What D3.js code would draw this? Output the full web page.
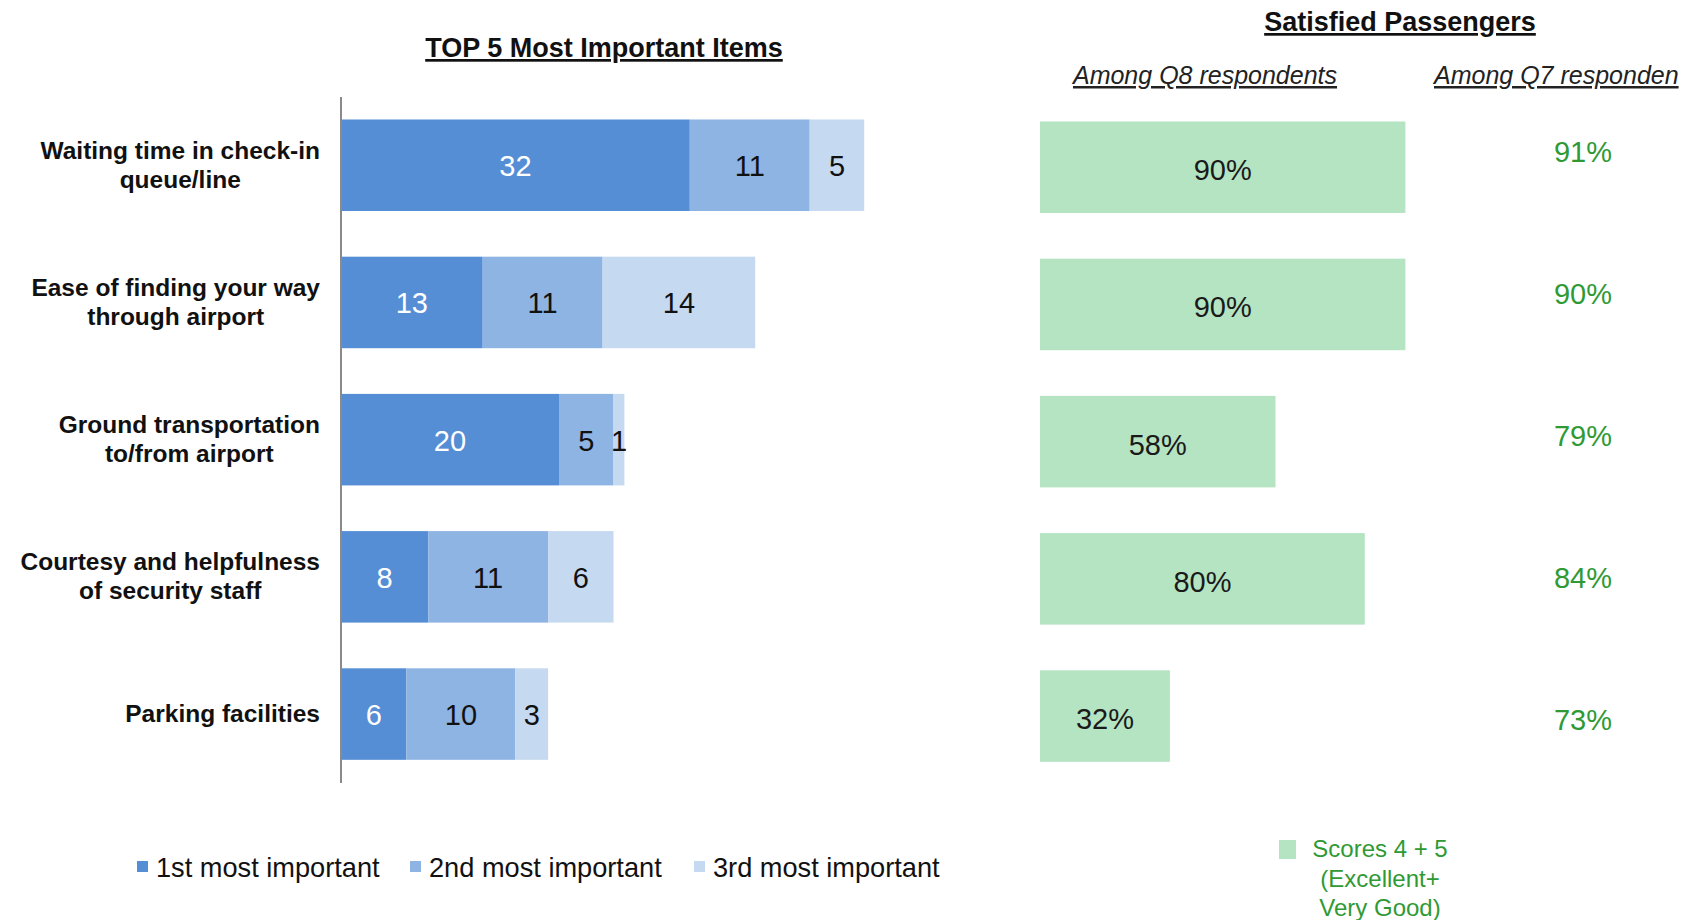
<!DOCTYPE html>
<html><head><meta charset="utf-8">
<script src="https://cdn.jsdelivr.net/npm/d3@7"></script>
<style>
html,body{margin:0;padding:0;background:#fff;}
text{font-family:"Liberation Sans",Arial,sans-serif;}
</style></head>
<body>
<svg id="chart" width="1688" height="920"></svg>
<script>
const categories = [
  ["Waiting time in check-in","queue/line"],
  ["Ease of finding your way","through airport"],
  ["Ground transportation","to/from airport"],
  ["Courtesy and helpfulness","of security staff"],
  ["Parking facilities"]
];
const catKeys = ["wait","ease","ground","courtesy","parking"];
const seriesNames = ["1st most important","2nd most important","3rd most important"];
const first  = [32, 13, 20, 8, 6];
const second = [11, 11, 5, 11, 10];
const third  = [5, 14, 1, 6, 3];
const satQ8 = [90, 90, 58, 80, 32];
const satQ7 = [91, 90, 79, 84, 73];
const greenLegend = ["Scores 4 + 5","(Excellent+","Very Good)"];

const blues = ["#558ed5","#8eb4e3","#c5d9f1"];
const labelColors = ["#ffffff","#111111","#111111"];
const greenBar = "#b5e4c3";
const greenText = "#2f9a34";

const svg = d3.select("#chart");

// Left stacked bars
const xL = d3.scaleLinear().domain([0, 50]).range([341, 341 + 50*10.9]);
const yB = d3.scaleBand().domain(catKeys).range([73.8, 805.5]).padding(0.333);

const rows = catKeys.map((k,i)=>({key:k, a:first[i], b:second[i], c:third[i]}));
const stack = d3.stack().keys(["a","b","c"])(rows);

stack.forEach((layer, si) => {
  const g = svg.append("g");
  g.selectAll("rect").data(layer).join("rect")
    .attr("x", d => xL(d[0]))
    .attr("y", d => yB(d.data.key))
    .attr("width", d => xL(d[1]) - xL(d[0]))
    .attr("height", yB.bandwidth())
    .attr("fill", blues[si]);
  g.selectAll("text").data(layer).join("text")
    .attr("x", d => (xL(d[0]) + xL(d[1]))/2)
    .attr("y", d => yB(d.data.key) + yB.bandwidth()/2 + 1)
    .attr("text-anchor", "middle")
    .attr("dominant-baseline", "central")
    .attr("font-size", 29)
    .attr("fill", labelColors[si])
    .text(d => d[1]-d[0]);
});

// Axis line
svg.append("line").attr("x1",341).attr("x2",341).attr("y1",97).attr("y2",783)
  .attr("stroke","#8a8a8a").attr("stroke-width",2);

// Category labels: block right-aligned at x=320, lines centred within block
catKeys.forEach((k,i)=>{
  const lines = categories[i];
  const cy = yB(k) + yB.bandwidth()/2;
  const lh = 29;
  const t = svg.append("text").attr("text-anchor","middle")
    .attr("font-size",24.5).attr("font-weight","bold").attr("fill","#111");
  const spans = lines.map((ln,j)=> t.append("tspan")
     .attr("x", 0)
     .attr("y", cy + (j - (lines.length-1)/2)*lh + 8)
     .text(ln));
  const maxW = d3.max(spans, s => s.node().getComputedTextLength());
  spans.forEach(s => s.attr("x", 320 - maxW/2));
});

// Titles
svg.append("text").attr("x",604).attr("y",57).attr("text-anchor","middle")
  .attr("font-size",27).attr("font-weight","bold").attr("text-decoration","underline")
  .attr("fill","#111").text("TOP 5 Most Important Items");
svg.append("text").attr("x",1400).attr("y",31).attr("text-anchor","middle")
  .attr("font-size",27).attr("font-weight","bold").attr("text-decoration","underline")
  .attr("fill","#111").text("Satisfied Passengers");
svg.append("text").attr("x",1205).attr("y",84).attr("text-anchor","middle")
  .attr("font-size",25).attr("font-style","italic").attr("text-decoration","underline")
  .attr("fill","#222").text("Among Q8 respondents");
svg.append("text").attr("x",1434).attr("y",84).attr("text-anchor","start")
  .attr("font-size",25).attr("font-style","italic").attr("text-decoration","underline")
  .attr("fill","#222").text("Among Q7 responden");

// Right bars
const xR = d3.scaleLinear().domain([0,100]).range([1040, 1446]);
const yR = d3.scaleBand().domain(catKeys).range([75.8, 807.5]).padding(0.333);
const gR = svg.append("g");
gR.selectAll("rect").data(satQ8).join("rect")
  .attr("x", xR(0))
  .attr("y", (d,i)=>yR(catKeys[i]))
  .attr("width", d => xR(d)-xR(0))
  .attr("height", yR.bandwidth())
  .attr("fill", greenBar);
gR.selectAll("text").data(satQ8).join("text")
  .attr("x", d => (xR(0)+xR(d))/2)
  .attr("y", (d,i)=>yR(catKeys[i]) + yR.bandwidth()/2 + 3)
  .attr("text-anchor","middle").attr("dominant-baseline","central")
  .attr("font-size",29).attr("fill","#1a1a1a")
  .text(d => d + "%");

// Q7 values
const yQ7 = d3.scalePoint().domain(catKeys).range([152, 720]);
svg.append("g").selectAll("text").data(satQ7).join("text")
  .attr("x",1583).attr("y",(d,i)=>yQ7(catKeys[i]))
  .attr("text-anchor","middle").attr("dominant-baseline","central")
  .attr("font-size",29).attr("fill",greenText)
  .text(d => d + "%");

// Legend (left)
const legX = [137, 410, 694];
seriesNames.forEach((n,i)=>{
  svg.append("rect").attr("x",legX[i]).attr("y",861).attr("width",11).attr("height",11).attr("fill",blues[i]);
  svg.append("text").attr("x",legX[i]+19).attr("y",877).attr("font-size",27.2).attr("fill","#111").text(n);
});

// Legend (right)
svg.append("rect").attr("x",1279).attr("y",840).attr("width",17).attr("height",19).attr("fill",greenBar);
const gl = svg.append("text").attr("text-anchor","middle").attr("font-size",24).attr("fill",greenText);
greenLegend.forEach((l,i)=>{
  gl.append("tspan").attr("x",1380).attr("y",857 + i*29.5).text(l);
});
</script>
</body></html>
